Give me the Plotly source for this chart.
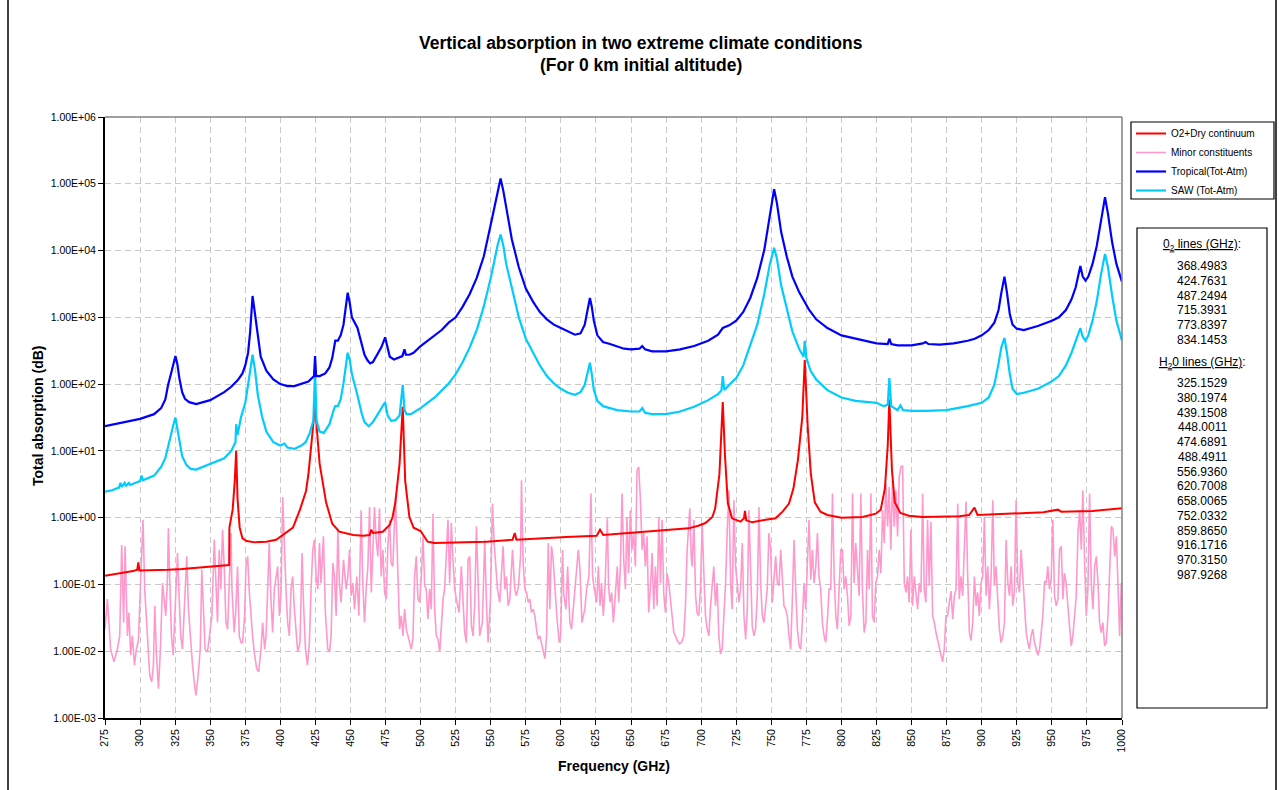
import plotly.graph_objects as go

# ---------------- data ----------------
# each series: (frequency in GHz, log10 of total absorption in dB)
o2_dry = [
    (275, -0.87), (285, -0.84), (295, -0.80), (298, -0.78), (298.75, -0.67), (299.5, -0.79),
    (310, -0.79), (320, -0.78), (330, -0.77), (340, -0.75), (350, -0.73), (360, -0.72),
    (363.5, -0.71), (363.7, -0.15), (366, 0.12), (367.5, 0.55), (368.5, 1.0), (369.5, 0.28),
    (371, -0.15), (373, -0.31), (376, -0.35), (382, -0.37), (390, -0.36), (397, -0.33),
    (400.5, -0.28), (404, -0.23), (409, -0.15), (414, 0.12), (418.3, 0.4), (420, 0.65),
    (423, 1.29), (424.76, 1.67), (426.5, 1.2), (428, 0.81), (432.6, 0.23), (437, -0.09),
    (442, -0.21), (447, -0.24), (452, -0.26), (459, -0.27), (463.6, -0.26), (464.8, -0.18),
    (466, -0.23), (473, -0.21), (477.9, -0.11), (480, 0.01), (482, 0.23), (485, 0.81),
    (487.25, 1.66), (489, 0.55), (492, 0.01), (495, -0.15), (500, -0.2), (505, -0.36),
    (510, -0.38), (532, -0.37), (547, -0.36), (565.5, -0.33), (567.1, -0.23), (568.3, -0.33),
    (580, -0.32), (604, -0.29), (625.5, -0.27), (627.9, -0.18), (630.2, -0.26), (642, -0.24),
    (658, -0.22), (682, -0.18), (691, -0.16), (698, -0.12), (703, -0.08), (708, 0.01),
    (710, 0.14), (713, 0.65), (715.39, 1.73), (717, 0.92), (719, 0.22), (722, -0.01),
    (728, -0.06), (730.5, -0.01), (731.2, 0.10), (732.1, -0.04), (736.4, -0.07), (746, -0.03),
    (753, -0.01), (758, 0.09), (762.6, 0.21), (765.8, 0.44), (769, 0.87), (772.1, 1.51),
    (773.84, 2.36), (776, 1.34), (778.2, 0.65), (781, 0.23), (785, 0.09), (790, 0.04),
    (800, 0.0), (815, 0.01), (824.5, 0.06), (828, 0.12), (831, 0.44), (833, 1.08),
    (834.15, 1.77), (836, 0.71), (838, 0.23), (842, 0.07), (848, 0.03), (858, 0.01),
    (884, 0.02), (891, 0.04), (894.8, 0.15), (897, 0.04), (920, 0.06), (944, 0.08),
    (954.3, 0.12), (956.7, 0.09), (979, 0.10), (1000, 0.14),
]

minor = [
    (275.0, -1.67), (276.7, -1.22), (279.0, -1.97), (281.4, -2.16), (283.8, -1.97), (285.5, -1.77),
    (286.9, -0.41), (288.3, -1.57), (289.3, -0.43), (291.0, -1.77), (292.1, -1.42), (293.3, -2.06),
    (294.5, -1.77), (296.0, -2.21), (297.4, -1.97), (298.8, -1.84), (300.2, -1.07), (301.2, -0.63),
    (302.1, -0.03), (303.3, -1.07), (304.5, -1.57), (305.5, -1.87), (306.9, -2.36), (308.3, -2.46),
    (309.5, -2.21), (310.5, -1.32), (311.7, -2.06), (313.1, -2.56), (314.5, -1.97), (316.0, -0.98),
    (317.1, -1.22), (318.3, -1.47), (319.5, -0.93), (320.2, -0.16), (321.2, -0.98), (322.4, -1.77),
    (323.6, -2.06), (325.0, -1.27), (326.7, -0.53), (327.9, -1.22), (329.0, -1.77), (330.2, -1.97),
    (332.1, -0.98), (333.3, -0.58), (334.5, -1.37), (336.2, -1.97), (337.4, -2.21), (338.6, -2.46),
    (339.8, -2.66), (341.4, -2.36), (342.9, -1.97), (344.0, -0.78), (345.0, -1.32), (346.4, -1.97),
    (348.1, -2.01), (349.3, -1.77), (351.2, -1.47), (352.9, -0.33), (354.0, -0.98), (355.2, -1.57),
    (356.4, -0.48), (357.6, -1.07), (358.8, -0.18), (360.0, -0.73), (361.2, -1.57), (362.4, -1.67),
    (363.6, -0.98), (364.8, -0.23), (365.5, -1.07), (367.1, -1.72), (368.3, -1.37), (369.5, -0.73),
    (370.7, -1.77), (371.9, -1.87), (373.1, -1.87), (374.5, -1.47), (375.5, -0.73), (376.7, -0.58),
    (377.9, -1.12), (379.0, -1.52), (380.2, -1.77), (381.4, -2.01), (383.1, -2.26), (384.5, -2.31),
    (386.2, -1.97), (387.4, -1.57), (388.8, -1.97), (389.8, -1.77), (391.0, -0.98), (392.1, -0.38),
    (393.3, -1.22), (394.5, -1.72), (395.7, -1.07), (396.9, -0.88), (398.1, -0.73), (399.3, -1.47),
    (400.5, -1.12), (401.7, 0.31), (402.9, -0.48), (404.0, -1.07), (405.2, -1.57), (406.4, -1.77),
    (407.6, -1.07), (408.8, -0.88), (410.0, -1.37), (411.2, -1.77), (412.4, -2.01), (414.0, -1.87),
    (415.5, -0.53), (416.4, -1.22), (417.9, -1.97), (419.3, -2.21), (420.7, -1.87), (421.9, -1.07),
    (423.1, -0.48), (424.3, -0.33), (425.5, -0.88), (426.7, -1.07), (427.9, -0.38), (429.0, -0.98),
    (430.7, -0.28), (432.1, -1.42), (433.8, -1.97), (435.0, -2.01), (436.2, -1.77), (437.4, -0.68),
    (438.6, -0.88), (439.8, -1.47), (441.0, -0.18), (442.1, -0.98), (443.3, -1.27), (445.0, -0.63),
    (446.9, -1.07), (448.1, -0.88), (449.3, -0.48), (450.5, -1.17), (451.7, -0.98), (452.9, -1.37),
    (454.5, -0.88), (456.0, -1.47), (457.6, 0.11), (458.8, -0.98), (460.0, -1.57), (461.2, -1.07),
    (462.4, -0.73), (463.6, 0.16), (464.8, -1.12), (466.0, -0.48), (467.1, 0.16), (468.3, -0.33),
    (469.5, -0.58), (470.7, 0.14), (471.9, -0.88), (473.1, -0.48), (474.3, -1.12), (475.5, -1.22),
    (476.7, -0.38), (477.9, -0.03), (479.0, -0.68), (480.2, -0.73), (482.1, 0.31), (483.3, -0.48),
    (485.0, -1.67), (486.2, -1.47), (487.4, -1.77), (488.6, -1.37), (489.8, -1.67), (491.0, -1.77),
    (492.1, -1.87), (493.3, -1.97), (494.5, -1.82), (495.7, -0.88), (496.9, -0.58), (498.1, -1.22),
    (499.3, -1.27), (500.5, -0.88), (501.7, -0.28), (502.9, -1.02), (504.0, -1.07), (505.2, -1.52),
    (506.4, -1.07), (507.6, -1.37), (508.8, 0.06), (510.0, -1.37), (511.2, -1.77), (512.4, -1.82),
    (513.6, -2.01), (514.8, -1.57), (516.0, -1.22), (517.1, -1.07), (518.3, -0.48), (519.5, -0.03),
    (520.7, -0.98), (521.9, -0.08), (523.1, -0.63), (524.3, -1.07), (525.5, -1.22), (527.4, -1.42),
    (529.0, -0.73), (530.2, -1.22), (531.4, -1.72), (532.6, -1.87), (533.8, -0.63), (535.0, -0.58),
    (536.2, -1.62), (537.4, -1.77), (538.6, -1.27), (539.8, -0.13), (541.0, -1.17), (542.1, -1.77),
    (544.0, -1.57), (545.7, -0.33), (546.9, -1.27), (548.1, -1.87), (549.8, -1.22), (551.2, 0.21),
    (552.4, -0.38), (553.6, -0.78), (554.8, -1.07), (556.4, -1.27), (557.6, -0.88), (558.8, -0.43),
    (560.0, -1.07), (561.2, -0.88), (562.4, -1.32), (563.6, -1.22), (565.5, -0.48), (567.1, -1.07),
    (568.3, -1.17), (569.8, -1.02), (571.2, -0.58), (571.9, 0.56), (573.1, -0.68), (574.3, -1.07),
    (575.5, -1.12), (576.7, -1.27), (577.9, -1.22), (579.0, -1.42), (580.2, -1.37), (581.4, -1.47),
    (582.6, -1.67), (583.8, -1.82), (585.0, -1.77), (586.2, -1.87), (587.4, -2.01), (588.6, -2.11),
    (589.8, -1.77), (591.0, -0.38), (592.1, -1.37), (593.3, -0.43), (594.5, -0.63), (595.7, -1.07),
    (596.9, -1.42), (598.8, -1.87), (599.8, -1.77), (601.2, -0.48), (602.1, -1.17), (603.6, -1.37),
    (604.8, -0.73), (606.4, -1.57), (607.6, -1.67), (608.8, -1.37), (610.0, -1.07), (611.2, -0.68),
    (612.4, -0.48), (613.6, -0.78), (615.0, -1.57), (616.0, -1.47), (617.1, -1.37), (618.3, -1.07),
    (620.0, -0.88), (621.4, 0.36), (622.6, -0.88), (623.8, -1.07), (625.5, -1.27), (626.7, -0.73),
    (627.9, -1.32), (629.0, -0.98), (630.2, -1.47), (631.4, -1.07), (633.1, -0.01), (634.0, -1.02),
    (635.0, -1.27), (636.2, -1.12), (637.4, -1.57), (638.6, -1.22), (640.2, -0.73), (641.2, -1.27),
    (642.4, -0.73), (643.6, 0.36), (644.8, -0.63), (646.0, -1.07), (647.1, 0.01), (648.3, -0.83),
    (649.5, 0.11), (650.7, -0.48), (651.9, -0.23), (653.1, -0.73), (654.3, 0.71), (655.5, 0.76),
    (656.7, 0.26), (657.9, -0.48), (659.0, -0.23), (660.2, -0.73), (661.4, -0.28), (662.6, -1.42),
    (663.8, -1.07), (665.0, -0.53), (666.2, -1.37), (667.4, -0.73), (668.6, -1.32), (669.8, 0.01),
    (671.0, -0.98), (672.1, -0.03), (673.3, -1.12), (674.5, -1.42), (675.7, -0.83), (676.9, -0.98),
    (678.1, -1.22), (679.3, -1.52), (680.5, -1.72), (681.7, -1.77), (682.9, -1.84), (684.5, -1.89),
    (686.0, -1.87), (687.6, -1.77), (688.8, -1.32), (690.0, -0.48), (691.2, -0.08), (691.9, 0.14),
    (692.9, -0.58), (693.6, -0.73), (694.8, -0.03), (696.0, -1.17), (697.1, -1.42), (698.3, -1.47),
    (699.5, -1.07), (700.7, -0.08), (701.9, -0.83), (703.1, -1.47), (704.3, -1.67), (705.5, -1.77),
    (706.7, -1.32), (707.9, -1.02), (709.0, -0.73), (710.2, -1.32), (711.4, -0.98), (712.6, -1.77),
    (713.8, -2.04), (715.0, -1.97), (716.2, -1.47), (717.4, -0.98), (718.6, -0.18), (719.8, 0.41),
    (721.0, -0.98), (722.1, -1.37), (723.3, 0.26), (724.5, -0.73), (725.7, -0.98), (726.9, -1.27),
    (728.1, -1.07), (729.3, -0.38), (730.5, -1.47), (731.7, -1.82), (732.9, -1.37), (734.0, 0.11),
    (735.2, -0.73), (736.4, -1.62), (737.6, -1.77), (738.8, -1.67), (740.0, -1.17), (741.2, 0.16),
    (742.4, -0.98), (743.6, -1.47), (744.8, -1.57), (746.0, -1.32), (747.1, -1.07), (748.3, -0.23),
    (749.5, -0.48), (750.7, -1.27), (751.9, -0.98), (753.1, -0.58), (754.3, -0.98), (755.5, -1.02),
    (756.7, -0.48), (757.9, -0.88), (759.0, -1.32), (760.2, -1.37), (761.4, -1.47), (762.6, -1.77),
    (763.8, -1.97), (765.0, -1.22), (766.2, -0.33), (767.4, -1.07), (768.6, -1.67), (769.8, -1.92),
    (771.0, -1.97), (772.1, -1.57), (773.3, -0.98), (774.5, -1.37), (775.7, -0.63), (776.9, -0.03),
    (778.1, -0.93), (779.3, -0.48), (780.5, -0.98), (781.7, -0.73), (782.9, -0.23), (784.0, -0.88),
    (785.2, -1.07), (786.4, -1.57), (787.6, -1.77), (788.8, -1.87), (790.0, -1.52), (791.2, -1.07),
    (792.4, -1.07), (793.6, 0.36), (794.8, -0.88), (796.0, -1.47), (797.1, -1.67), (798.3, -0.98),
    (799.5, -0.48), (800.7, -0.48), (801.9, -1.07), (803.1, -0.88), (804.3, -1.17), (805.5, -1.62),
    (806.7, -1.47), (807.9, 0.36), (809.0, -0.98), (810.2, -0.38), (811.4, -0.78), (812.6, -1.17),
    (813.8, 0.36), (815.0, -1.12), (816.2, -1.72), (817.4, -1.57), (818.6, -0.48), (819.8, -1.07),
    (821.0, 0.36), (822.1, -1.47), (823.3, -1.57), (824.5, -0.98), (825.7, -0.88), (826.9, -0.48),
    (828.1, -0.83), (829.3, 0.11), (830.5, -0.38), (831.7, 0.51), (832.9, -0.13), (834.0, 0.46),
    (835.2, -0.48), (836.4, 0.56), (837.6, -0.13), (838.8, 0.41), (840.0, -0.28), (841.2, 0.61),
    (842.4, 0.76), (843.6, 0.78), (844.8, -0.98), (846.0, -1.12), (847.1, -0.88), (848.3, -1.27),
    (849.5, -0.18), (850.7, -1.32), (851.9, -0.88), (853.1, -1.17), (854.3, -1.37), (855.5, -0.98),
    (856.7, -1.12), (857.9, 0.36), (859.0, -1.07), (860.2, -1.27), (861.4, -0.03), (862.6, -1.02),
    (863.8, -0.06), (865.0, -1.47), (866.2, -1.57), (867.4, -1.72), (868.6, -1.82), (869.8, -1.92),
    (871.0, -2.06), (872.1, -2.16), (873.3, -1.97), (874.5, -1.47), (875.7, -1.47), (876.9, -1.27),
    (878.1, -1.10), (879.3, -1.52), (880.5, -1.17), (881.7, -1.07), (882.9, 0.21), (884.0, -1.22),
    (885.2, -0.88), (886.4, -1.17), (887.6, -0.58), (888.8, 0.24), (890.0, -0.88), (891.2, -1.72),
    (892.4, -1.84), (893.6, -1.57), (894.8, -0.88), (896.0, -1.32), (897.1, -1.12), (898.3, -1.47),
    (899.5, -0.98), (900.7, -0.88), (901.9, 0.01), (903.1, -1.17), (904.3, -0.73), (905.5, -1.37),
    (906.7, -0.88), (907.9, 0.26), (909.0, -1.02), (910.2, -0.73), (911.4, -1.22), (912.6, -1.67),
    (913.8, -1.87), (915.0, -1.77), (916.2, -1.57), (917.4, -0.33), (918.6, -0.98), (919.8, -1.17),
    (921.0, -0.73), (922.1, -1.32), (923.3, -1.12), (924.5, 0.26), (925.7, -0.98), (926.9, -1.12),
    (928.1, -0.48), (929.3, -0.88), (930.5, -1.42), (931.7, -1.72), (932.9, -1.87), (934.0, -1.97),
    (935.2, -1.77), (936.4, -1.67), (937.6, -1.87), (938.8, -1.97), (940.0, -2.06), (941.2, -1.97),
    (942.4, -1.72), (943.6, -1.47), (944.8, -0.95), (946.0, -0.98), (947.1, -0.73), (948.3, -1.07),
    (949.5, -0.93), (950.7, -0.03), (951.9, -1.17), (953.1, -1.32), (954.3, -1.22), (955.5, -0.48),
    (956.7, -0.43), (957.9, -1.22), (959.0, -0.83), (960.2, -0.98), (961.4, -1.32), (962.6, -1.57),
    (963.8, -1.92), (965.0, -1.77), (966.2, -1.47), (967.4, -1.17), (968.6, -0.23), (969.8, 0.11),
    (971.0, -0.48), (972.1, 0.41), (973.3, -0.63), (974.5, -1.47), (975.7, -1.07), (976.9, 0.36),
    (978.1, -0.98), (979.3, -1.37), (980.5, -0.73), (981.7, -0.58), (982.9, -0.98), (984.0, -1.57),
    (985.2, -1.72), (986.4, -1.57), (987.6, -1.92), (988.8, -1.87), (990.0, -1.47), (991.2, -0.88),
    (992.4, -0.13), (993.6, -0.18), (994.8, -0.58), (996.0, -0.28), (997.1, -0.88), (998.3, -1.77),
    (999.5, -0.98), (1000.0, -1.07),
]

tropical = [
    (275, 1.37), (300, 1.48), (310, 1.55), (315, 1.64), (318, 1.77), (320, 1.99), (322, 2.15),
    (323.5, 2.28), (325.2, 2.42), (326.5, 2.31), (328, 2.09), (330, 1.88), (332, 1.78), (335, 1.73),
    (340, 1.70), (350, 1.76), (360, 1.88), (365, 1.96), (370, 2.07), (373, 2.16), (375, 2.28),
    (377, 2.47), (378.5, 2.79), (380.2, 3.32), (382, 3.05), (383.5, 2.79), (386, 2.41), (390, 2.20),
    (395, 2.07), (400, 2.00), (405, 1.97), (410, 1.97), (415, 2.00), (420, 2.04), (424, 2.12),
    (424.76, 2.42), (425.5, 2.12), (428, 2.12), (432, 2.16), (435, 2.25), (437, 2.39), (439.15, 2.65),
    (441, 2.65), (443, 2.73), (445, 2.89), (446.5, 3.16), (448, 3.37), (449.5, 3.21), (451, 3.00),
    (455, 2.84), (458, 2.60), (460, 2.44), (462, 2.36), (464, 2.31), (466, 2.33), (469, 2.44),
    (472, 2.55), (474.7, 2.70), (476, 2.57), (478, 2.41), (481, 2.37), (484, 2.39), (487, 2.42),
    (488.5, 2.52), (489.5, 2.44), (492, 2.44), (495, 2.47), (500, 2.57), (505, 2.65), (510, 2.73),
    (515, 2.81), (520, 2.92), (525, 3.00), (530, 3.16), (535, 3.35), (540, 3.59), (545, 3.91),
    (550, 4.39), (553, 4.71), (555, 4.89), (557, 5.08), (559, 4.89), (561, 4.65), (565, 4.17),
    (570, 3.75), (575, 3.43), (580, 3.24), (585, 3.08), (590, 2.97), (595, 2.89), (600, 2.84),
    (605, 2.79), (610, 2.74), (614, 2.76), (617, 2.89), (619, 3.11), (620.7, 3.29), (622, 3.16),
    (623.5, 2.95), (626, 2.73), (630, 2.63), (635, 2.60), (645, 2.53), (650, 2.52), (656, 2.53),
    (658, 2.57), (660, 2.52), (665, 2.49), (675, 2.49), (685, 2.52), (695, 2.57), (705, 2.65),
    (712, 2.74), (715.4, 2.84), (720, 2.88), (725, 2.95), (730, 3.08), (735, 3.29), (740, 3.59),
    (745, 4.01), (749, 4.55), (752, 4.92), (754, 4.71), (757, 4.28), (761, 3.91), (765, 3.61),
    (770, 3.37), (773.8, 3.24), (777, 3.11), (782, 2.97), (790, 2.84), (800, 2.73), (810, 2.68),
    (815, 2.65), (825, 2.61), (833, 2.60), (834.15, 2.68), (835.5, 2.60), (840, 2.58), (850, 2.58),
    (858, 2.61), (860, 2.63), (862, 2.60), (870, 2.59), (880, 2.61), (890, 2.65), (895, 2.68),
    (900, 2.73), (905, 2.81), (909, 2.92), (912, 3.11), (914, 3.37), (916.2, 3.61), (918, 3.37),
    (920, 3.05), (922, 2.89), (925, 2.83), (930, 2.81), (940, 2.87), (950, 2.95), (955, 3.00),
    (960, 3.11), (964, 3.27), (967, 3.45), (970.3, 3.77), (972, 3.61), (974, 3.55), (976, 3.61),
    (979, 3.80), (982, 4.07), (985, 4.44), (987.9, 4.80), (990, 4.55), (993, 4.12), (996, 3.80),
    (1000, 3.53),
]

saw = [
    (275, 0.39), (280, 0.41), (285, 0.45), (286, 0.52), (287, 0.46), (289, 0.52), (290, 0.48),
    (292, 0.52), (293, 0.49), (300, 0.55), (301, 0.63), (302, 0.56), (310, 0.63), (315, 0.76),
    (318, 0.89), (320, 1.08), (322, 1.24), (323.5, 1.37), (325.2, 1.50), (326.5, 1.35), (328, 1.13),
    (330, 0.92), (333, 0.79), (336, 0.73), (340, 0.72), (345, 0.76), (350, 0.81), (355, 0.84),
    (360, 0.89), (365, 1.00), (368, 1.13), (368.5, 1.40), (369.5, 1.24), (372, 1.51), (375, 1.72),
    (377, 1.99), (378.5, 2.20), (380.2, 2.44), (382, 2.20), (384, 1.83), (387, 1.51), (390, 1.29),
    (395, 1.13), (400, 1.08), (403, 1.11), (405, 1.05), (410, 1.03), (415, 1.08), (418, 1.13),
    (421, 1.27), (423.5, 1.45), (424.76, 2.20), (425.8, 1.45), (428, 1.29), (431, 1.27), (435, 1.40),
    (438, 1.61), (439.15, 1.67), (441, 1.67), (443, 1.77), (445, 2.01), (446.5, 2.25), (448, 2.47),
    (449.5, 2.36), (451, 2.15), (455, 1.83), (458, 1.56), (460, 1.43), (463, 1.37), (466, 1.43),
    (469, 1.53), (472, 1.64), (474.7, 1.73), (476.5, 1.53), (479, 1.45), (482, 1.46), (485, 1.53),
    (487.25, 1.99), (488.5, 1.61), (490, 1.55), (493, 1.55), (500, 1.64), (510, 1.80), (520, 2.01),
    (525, 2.15), (530, 2.33), (535, 2.55), (540, 2.81), (545, 3.16), (550, 3.59), (553, 3.91),
    (555, 4.09), (557, 4.24), (559, 4.07), (561, 3.80), (565, 3.43), (570, 3.00), (575, 2.68),
    (580, 2.47), (585, 2.28), (590, 2.12), (595, 2.01), (600, 1.93), (605, 1.87), (610, 1.84),
    (614, 1.88), (617, 1.99), (619, 2.17), (620.7, 2.32), (622, 2.15), (623.5, 1.91), (626, 1.75),
    (630, 1.67), (640, 1.61), (650, 1.59), (656, 1.59), (658, 1.64), (660, 1.57), (665, 1.55),
    (675, 1.55), (685, 1.59), (695, 1.66), (705, 1.76), (712, 1.85), (714.5, 1.91), (715.4, 2.12),
    (716.5, 1.91), (720, 1.99), (725, 2.09), (730, 2.28), (735, 2.57), (740, 2.89), (745, 3.35),
    (749, 3.80), (752, 4.04), (754, 3.88), (757, 3.48), (761, 3.11), (765, 2.79), (770, 2.52),
    (773, 2.41), (773.84, 2.65), (775, 2.39), (778, 2.20), (782, 2.07), (790, 1.91), (800, 1.80),
    (810, 1.75), (820, 1.73), (825, 1.72), (830, 1.67), (833, 1.69), (834.15, 2.09), (835.5, 1.67),
    (840, 1.61), (842, 1.68), (844, 1.61), (850, 1.60), (860, 1.60), (875, 1.61), (890, 1.67),
    (900, 1.72), (905, 1.80), (909, 1.99), (912, 2.31), (914, 2.55), (916.2, 2.69), (918, 2.47),
    (920, 2.15), (922, 1.93), (925, 1.85), (930, 1.87), (940, 1.93), (950, 2.04), (955, 2.12),
    (960, 2.28), (964, 2.47), (967, 2.65), (970.3, 2.84), (972, 2.71), (974, 2.65), (976, 2.73),
    (979, 2.95), (982, 3.24), (985, 3.64), (987.9, 3.95), (990, 3.75), (993, 3.32), (996, 2.95),
    (1000, 2.65),
]

x_tick_vals = [275, 300, 325, 350, 375, 400, 425, 450, 475, 500, 525, 550, 575, 600, 625, 650,
               675, 700, 725, 750, 775, 800, 825, 850, 875, 900, 925, 950, 975, 1000]
x_tick_text = [str(v) for v in x_tick_vals]
y_tick_vals = [1e-3, 1e-2, 1e-1, 1e0, 1e1, 1e2, 1e3, 1e4, 1e5, 1e6]
y_tick_text = ["1.00E-03", "1.00E-02", "1.00E-01", "1.00E+00", "1.00E+01",
               "1.00E+02", "1.00E+03", "1.00E+04", "1.00E+05", "1.00E+06"]

o2_lines = ["368.4983", "424.7631", "487.2494", "715.3931", "773.8397", "834.1453"]
h2o_lines = ["325.1529", "380.1974", "439.1508", "448.0011", "474.6891", "488.4911", "556.9360",
             "620.7008", "658.0065", "752.0332", "859.8650", "916.1716", "970.3150", "987.9268"]

title_lines = ["Vertical absorption in two extreme climate conditions", "(For 0 km initial altitude)"]
x_title = "Frequency (GHz)"
y_title = "Total absorption (dB)"


def unpack(pairs):
    return [p[0] for p in pairs], [10 ** p[1] for p in pairs]


# ---------------- layout geometry (pixels) ----------------
W, H = 1279, 790
L, R, T, B = 105, 1122, 117, 718
FONT = "Arial, 'Liberation Sans', sans-serif"


def px(x):
    return (x - L) / (R - L)


def py(y):
    return (B - y) / (B - T)


fig = go.Figure()

styles = {
    "O2+Dry continuum": dict(color="#FF0000", width=2, rank=1),
    "Minor constituents": dict(color="#FF99CC", width=1.6, rank=2),
    "Tropical(Tot-Atm)": dict(color="#0000FF", width=2.2, rank=3),
    "SAW (Tot-Atm)": dict(color="#00CCFF", width=2.2, rank=4),
}
data_by_name = {
    "O2+Dry continuum": o2_dry,
    "Minor constituents": minor,
    "Tropical(Tot-Atm)": tropical,
    "SAW (Tot-Atm)": saw,
}
draw_order = ["Minor constituents", "O2+Dry continuum", "SAW (Tot-Atm)", "Tropical(Tot-Atm)"]
for name in draw_order:
    xs, ys = unpack(data_by_name[name])
    st = styles[name]
    fig.add_trace(go.Scatter(
        x=xs, y=ys, mode="lines", name=name, legendrank=st["rank"],
        line=dict(color=st["color"], width=st["width"]),
        hoverinfo="skip",
    ))

grid = dict(showgrid=True, gridcolor="#C8C8C8", gridwidth=1, griddash="6px,4px")

fig.update_layout(
    width=W, height=H,
    margin=dict(l=L, r=W - R, t=T, b=H - B, pad=0),
    paper_bgcolor="white", plot_bgcolor="white",
    font=dict(family=FONT, color="black", size=10),
    showlegend=True,
    legend=dict(
        x=px(1131), y=py(119), xanchor="left", yanchor="top",
        borderwidth=0, bgcolor="rgba(0,0,0,0)",
        font=dict(family=FONT, size=10, color="black"),
        tracegroupgap=0, itemwidth=30,
    ),
    xaxis=dict(
        range=[275, 1000], tickmode="array", tickvals=x_tick_vals, ticktext=x_tick_text,
        tickangle=-90, ticks="outside", ticklen=5, tickwidth=1, tickcolor="black",
        showline=True, linecolor="black", linewidth=2, zeroline=False,
        tickfont=dict(family=FONT, size=10.5, color="black"), **grid,
    ),
    yaxis=dict(
        type="log", range=[-3, 6], tickmode="array", tickvals=y_tick_vals, ticktext=y_tick_text,
        ticks="outside", ticklen=5, tickwidth=1, tickcolor="black",
        showline=True, linecolor="black", linewidth=2, zeroline=False,
        tickfont=dict(family=FONT, size=10.5, color="black"), **grid,
    ),
)

shapes = [
    # plot area border (top and right, grey)
    dict(type="line", xref="paper", yref="paper", x0=0, x1=1, y0=1, y1=1,
         line=dict(color="#808080", width=1.5)),
    dict(type="line", xref="paper", yref="paper", x0=1, x1=1, y0=0, y1=1,
         line=dict(color="#808080", width=1.5)),
    # legend frame
    dict(type="rect", xref="paper", yref="paper", x0=px(1131), x1=px(1274), y0=py(199), y1=py(122),
         line=dict(color="black", width=1.2), fillcolor="rgba(0,0,0,0)", layer="below"),
    # frame of the lines text box
    dict(type="rect", xref="paper", yref="paper", x0=px(1137), x1=px(1267), y0=py(708), y1=py(228),
         line=dict(color="black", width=1.2), fillcolor="white", layer="above"),
    # chart area frame (left and right edges)
    dict(type="line", xref="paper", yref="paper", x0=px(8), x1=px(8), y0=py(0), y1=py(790),
         line=dict(color="black", width=1.5)),
    dict(type="line", xref="paper", yref="paper", x0=px(1276), x1=px(1276), y0=py(0), y1=py(790),
         line=dict(color="black", width=1.5)),
]
fig.update_layout(shapes=shapes)

ann = []
ann.append(dict(text="<b>" + title_lines[0] + "</b>", x=px(641), y=py(43), xref="paper", yref="paper",
                showarrow=False, xanchor="center", yanchor="middle",
                font=dict(family=FONT, size=17.5, color="black")))
ann.append(dict(text="<b>" + title_lines[1] + "</b>", x=px(641), y=py(65), xref="paper", yref="paper",
                showarrow=False, xanchor="center", yanchor="middle",
                font=dict(family=FONT, size=17.5, color="black")))
ann.append(dict(text="<b>" + x_title + "</b>", x=px(614), y=py(766), xref="paper", yref="paper",
                showarrow=False, xanchor="center", yanchor="middle",
                font=dict(family=FONT, size=14, color="black")))
ann.append(dict(text="<b>" + y_title + "</b>", x=px(38), y=py(416), xref="paper", yref="paper",
                showarrow=False, xanchor="center", yanchor="middle", textangle=-90,
                font=dict(family=FONT, size=14, color="black")))

cx = px(1202)
box_font = dict(family=FONT, size=12, color="black")
ann.append(dict(text="<u>0<sub>2</sub> lines (GHz)</u>:", x=cx, y=py(245), xref="paper", yref="paper",
                showarrow=False, xanchor="center", yanchor="middle", font=box_font))
for i, s in enumerate(o2_lines):
    ann.append(dict(text=s, x=cx, y=py(266 + 14.8 * i), xref="paper", yref="paper",
                    showarrow=False, xanchor="center", yanchor="middle", font=box_font))
ann.append(dict(text="<u>H<sub>2</sub>0 lines (GHz)</u>:", x=cx, y=py(363), xref="paper", yref="paper",
                showarrow=False, xanchor="center", yanchor="middle", font=box_font))
for i, s in enumerate(h2o_lines):
    ann.append(dict(text=s, x=cx, y=py(383 + 14.77 * i), xref="paper", yref="paper",
                    showarrow=False, xanchor="center", yanchor="middle", font=box_font))
fig.update_layout(annotations=ann)

fig.write_html("out.html")
